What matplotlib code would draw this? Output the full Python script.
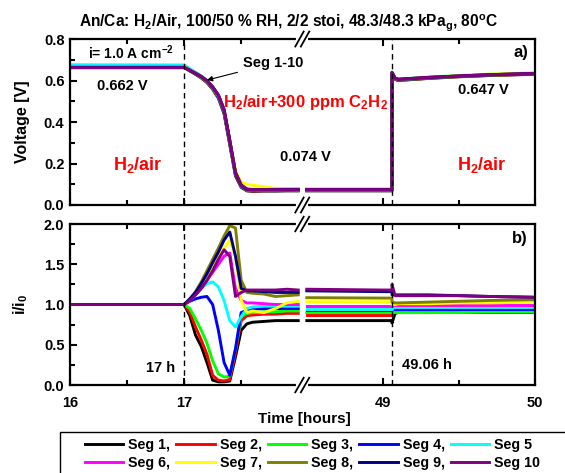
import numpy as np
import matplotlib
matplotlib.use('Agg')
from matplotlib import pyplot as plt
from matplotlib.ticker import FixedLocator, NullFormatter
from matplotlib.patches import Rectangle

plt.rcParams['font.family'] = 'Liberation Sans'
plt.rcParams['font.weight'] = 'bold'
plt.rcParams['axes.labelweight'] = 'bold'
plt.rcParams['mathtext.fontset'] = 'custom'
plt.rcParams['mathtext.rm'] = 'Liberation Sans:bold'
plt.rcParams['mathtext.it'] = 'Liberation Sans:bold'
plt.rcParams['mathtext.bf'] = 'Liberation Sans:bold'

# ---- data ----
labels = ['Seg 1,', 'Seg 2,', 'Seg 3,', 'Seg 4,', 'Seg 5',
          'Seg 6,', 'Seg 7,', 'Seg 8,', 'Seg 9,', 'Seg 10']
colors = ['#000000', '#ff0000', '#00ff00', '#0000ff', '#00ffff',
          '#ff00ff', '#ffff00', '#808000', '#000080', '#800080']

t_left = [16.0, 17.0, 17.05, 17.1, 17.15, 17.2, 17.25, 17.3, 17.35, 17.4,
          17.45, 17.5, 17.55, 17.6, 17.7, 17.8, 17.9, 18.0]
t_right = [48.5, 49.0, 49.06, 49.06, 49.08, 49.1, 49.3, 49.5, 49.7, 50.0]

volt_left = [
    [0.662, 0.662, 0.646, 0.630, 0.612, 0.590, 0.558, 0.515, 0.440, 0.290, 0.140, 0.085, 0.068, 0.066, 0.067, 0.067, 0.068, 0.068],
    [0.663, 0.663, 0.647, 0.631, 0.614, 0.592, 0.560, 0.518, 0.445, 0.295, 0.145, 0.088, 0.070, 0.068, 0.069, 0.070, 0.070, 0.070],
    [0.664, 0.664, 0.648, 0.632, 0.615, 0.593, 0.562, 0.520, 0.448, 0.298, 0.148, 0.090, 0.071, 0.070, 0.071, 0.071, 0.072, 0.072],
    [0.665, 0.665, 0.649, 0.633, 0.617, 0.595, 0.564, 0.522, 0.450, 0.300, 0.150, 0.092, 0.073, 0.072, 0.073, 0.073, 0.073, 0.074],
    [0.676, 0.675, 0.657, 0.640, 0.622, 0.600, 0.570, 0.528, 0.458, 0.308, 0.156, 0.096, 0.076, 0.074, 0.074, 0.075, 0.075, 0.075],
    [0.668, 0.668, 0.651, 0.636, 0.620, 0.598, 0.568, 0.528, 0.458, 0.310, 0.158, 0.097, 0.077, 0.075, 0.075, 0.075, 0.076, 0.076],
    [0.666, 0.666, 0.650, 0.635, 0.619, 0.598, 0.568, 0.528, 0.460, 0.315, 0.165, 0.110, 0.100, 0.095, 0.088, 0.080, 0.077, 0.076],
    [0.665, 0.665, 0.650, 0.635, 0.619, 0.598, 0.568, 0.530, 0.460, 0.312, 0.158, 0.097, 0.076, 0.075, 0.075, 0.076, 0.076, 0.076],
    [0.663, 0.663, 0.649, 0.634, 0.619, 0.599, 0.569, 0.530, 0.460, 0.311, 0.156, 0.096, 0.075, 0.074, 0.074, 0.075, 0.075, 0.075],
    [0.662, 0.662, 0.650, 0.635, 0.620, 0.600, 0.570, 0.530, 0.460, 0.310, 0.155, 0.095, 0.076, 0.074, 0.074, 0.074, 0.074, 0.074],
]
volt_right = [
    [0.068, 0.068, 0.068, 0.630, 0.606, 0.600, 0.610, 0.618, 0.624, 0.630],
    [0.070, 0.070, 0.070, 0.632, 0.607, 0.601, 0.611, 0.619, 0.625, 0.631],
    [0.071, 0.071, 0.071, 0.634, 0.608, 0.602, 0.612, 0.620, 0.626, 0.632],
    [0.073, 0.073, 0.073, 0.636, 0.609, 0.603, 0.613, 0.621, 0.627, 0.633],
    [0.075, 0.075, 0.075, 0.640, 0.613, 0.607, 0.617, 0.624, 0.630, 0.636],
    [0.076, 0.076, 0.076, 0.638, 0.611, 0.605, 0.615, 0.622, 0.628, 0.634],
    [0.076, 0.076, 0.076, 0.638, 0.612, 0.606, 0.616, 0.624, 0.631, 0.638],
    [0.075, 0.075, 0.075, 0.637, 0.611, 0.605, 0.614, 0.622, 0.628, 0.635],
    [0.075, 0.075, 0.075, 0.638, 0.612, 0.606, 0.615, 0.622, 0.628, 0.634],
    [0.074, 0.074, 0.074, 0.640, 0.612, 0.606, 0.615, 0.622, 0.628, 0.634],
]

ratio_left = [
    [1.0, 1.0, 0.86, 0.62, 0.48, 0.28, 0.06, 0.04, 0.04, 0.05, 0.35, 0.68, 0.76, 0.78, 0.79, 0.80, 0.80, 0.80],
    [1.0, 1.0, 0.90, 0.72, 0.56, 0.38, 0.12, 0.06, 0.05, 0.07, 0.40, 0.80, 0.86, 0.87, 0.88, 0.88, 0.89, 0.89],
    [1.0, 1.0, 0.95, 0.82, 0.68, 0.52, 0.30, 0.14, 0.10, 0.11, 0.45, 0.85, 0.89, 0.90, 0.91, 0.91, 0.92, 0.92],
    [1.0, 1.0, 1.04, 1.07, 1.09, 1.10, 1.00, 0.68, 0.28, 0.12, 0.45, 0.90, 0.93, 0.94, 0.95, 0.95, 0.95, 0.95],
    [1.0, 1.0, 1.05, 1.12, 1.20, 1.26, 1.28, 1.22, 1.05, 0.80, 0.72, 0.85, 0.95, 0.97, 0.98, 0.98, 0.98, 0.98],
    [1.0, 1.0, 1.05, 1.12, 1.20, 1.30, 1.40, 1.50, 1.60, 1.64, 1.20, 1.05, 1.02, 1.02, 1.01, 1.00, 1.00, 1.00],
    [1.0, 1.0, 1.06, 1.14, 1.24, 1.36, 1.48, 1.60, 1.70, 1.80, 1.60, 1.05, 0.90, 0.92, 0.90, 0.95, 1.02, 1.04],
    [1.0, 1.0, 1.07, 1.16, 1.28, 1.42, 1.56, 1.70, 1.85, 1.98, 1.95, 1.30, 1.15, 1.14, 1.13, 1.10, 1.11, 1.12],
    [1.0, 1.0, 1.07, 1.15, 1.26, 1.38, 1.52, 1.65, 1.80, 1.90, 1.60, 1.20, 1.17, 1.17, 1.16, 1.15, 1.15, 1.15],
    [1.0, 1.0, 1.05, 1.12, 1.20, 1.30, 1.42, 1.56, 1.68, 1.60, 1.10, 1.15, 1.18, 1.18, 1.18, 1.18, 1.19, 1.18],
]
ratio_right = [
    [0.80, 0.80, 0.80, 0.77, 0.89, 0.90, 0.90, 0.91, 0.91, 0.91],
    [0.87, 0.87, 0.87, 0.91, 0.91, 0.91, 0.91, 0.91, 0.91, 0.91],
    [0.90, 0.90, 0.90, 0.90, 0.90, 0.90, 0.90, 0.90, 0.91, 0.91],
    [0.93, 0.93, 0.93, 0.95, 0.95, 0.95, 0.95, 0.95, 0.95, 0.95],
    [0.95, 0.95, 0.95, 0.97, 0.97, 0.97, 0.97, 0.97, 0.97, 0.97],
    [0.98, 0.98, 0.98, 0.99, 0.99, 0.99, 0.99, 0.99, 0.99, 0.99],
    [1.035, 1.035, 1.035, 1.00, 1.00, 1.01, 1.01, 1.02, 1.02, 1.03],
    [1.085, 1.08, 1.08, 1.03, 1.02, 1.02, 1.03, 1.04, 1.05, 1.06],
    [1.17, 1.16, 1.16, 1.12, 1.12, 1.12, 1.12, 1.11, 1.10, 1.09],
    [1.19, 1.18, 1.18, 1.25, 1.11, 1.11, 1.11, 1.11, 1.10, 1.09],
]

event_times = [17.0, 49.06]


# broken time axis: 16-18 and 48.5-50 share one axis
def fwd(t):
    t = np.asarray(t, float)
    return np.where(t <= 18, t,
                    np.where(t >= 48.5, 18.075 + (t - 48.5) * 1.333,
                             18 + (t - 18) * 0.075 / 30.5))


def inv(u):
    u = np.asarray(u, float)
    return np.where(u <= 18, u,
                    np.where(u >= 18.075, 48.5 + (u - 18.075) / 1.333,
                             18 + (u - 18) * 30.5 / 0.075))


fig = plt.figure(figsize=(5.65, 4.73), dpi=100)
ax1 = fig.add_axes([0.1239, 0.5666, 0.8230, 0.3509])
ax2 = fig.add_axes([0.1239, 0.1860, 0.8230, 0.3404])

handles = []
for i in range(10):
    ax1.plot(t_left, volt_left[i], color=colors[i], lw=2.1)
    ax1.plot(t_right, volt_right[i], color=colors[i], lw=2.1)
    h, = ax2.plot(t_left, ratio_left[i], color=colors[i], lw=2.1)
    ax2.plot(t_right, ratio_right[i], color=colors[i], lw=2.1)
    handles.append(h)

for ax in (ax1, ax2):
    ax.set_xscale('function', functions=(fwd, inv))
    ax.set_xlim(16, 50)
    ax.xaxis.set_major_locator(FixedLocator([16, 17, 49, 50]))
    ax.xaxis.set_minor_locator(FixedLocator([16.5, 17.5, 49.5]))
    ax.xaxis.set_minor_formatter(NullFormatter())
    ax.tick_params(which='both', direction='in', top=True, width=1.5, labelsize=10.5, pad=4)
    ax.tick_params(which='major', length=5)
    ax.tick_params(which='minor', length=3.5)
    for s in ax.spines.values():
        s.set_linewidth(1.6)
    for te in event_times:
        ax.axvline(te, color='black', lw=1.0, ls=(0, (4, 3)))
    # break marks
    xb = 0.4995
    for yb in (0, 1):
        ax.plot([xb - 0.009, xb + 0.009], [yb, yb], transform=ax.transAxes,
                color='white', lw=3, clip_on=False, zorder=5)
        for dx in (-0.006, 0.006):
            ax.plot([xb + dx - 0.009, xb + dx + 0.009], [yb - 0.045, yb + 0.045],
                    transform=ax.transAxes, color='black', lw=1.3,
                    clip_on=False, zorder=6)

ax1.set_ylim(0, 0.8)
ax1.set_yticks([0.0, 0.2, 0.4, 0.6, 0.8])
ax1.yaxis.set_minor_locator(FixedLocator([0.1, 0.3, 0.5, 0.7]))
ax1.set_yticklabels(['0.0', '0.2', '0.4', '0.6', '0.8'])
ax1.tick_params(axis='x', labelbottom=False)
ax1.set_ylabel('Voltage [V]', fontsize=11.5)
ax1.yaxis.set_label_coords(-0.086, 0.5)

ax2.set_ylim(0, 2.0)
ax2.set_yticks([0.0, 0.5, 1.0, 1.5, 2.0])
ax2.yaxis.set_minor_locator(FixedLocator([0.25, 0.75, 1.25, 1.75]))
ax2.set_yticklabels(['0.0', '0.5', '1.0', '1.5', '2.0'])
ax2.tick_params(axis='x', pad=8)
ax2.set_ylabel('i/i$_0$', fontsize=11.5)
ax2.yaxis.set_label_coords(-0.086, 0.5)
ax2.set_xlabel('Time [hours]', fontsize=11)
ax2.xaxis.set_label_coords(0.503, -0.165)

# annotations, top panel
ax1.text(0.039, 0.916, 'i= 1.0 A cm$^{-2}$', transform=ax1.transAxes, fontsize=10, va='center')
ax1.text(0.058, 0.69, '0.662 V', transform=ax1.transAxes, fontsize=10.5)
ax1.text(0.0925, 0.211, 'H$_2$/air', transform=ax1.transAxes, fontsize=13, color='red')
ax1.text(0.329, 0.59, 'H$_2$/air+300 ppm C$_2$H$_2$', transform=ax1.transAxes, fontsize=12, color='red')
ax1.text(0.452, 0.265, '0.074 V', transform=ax1.transAxes, fontsize=10.5)
ax1.text(0.834, 0.669, '0.647 V', transform=ax1.transAxes, fontsize=10.5)
ax1.text(0.832, 0.211, 'H$_2$/air', transform=ax1.transAxes, fontsize=13, color='red')
ax1.text(0.985, 0.89, 'a)', transform=ax1.transAxes, fontsize=12, ha='right')
ax1.annotate('Seg 1-10', xy=(17.2, 0.602), xytext=(0.372, 0.83),
             textcoords='axes fraction', fontsize=10.5, va='baseline',
             arrowprops=dict(arrowstyle='-|>', color='black', lw=0.8,
                             shrinkA=2, shrinkB=0, mutation_scale=8))

# annotations, bottom panel
ax2.text(0.985, 0.88, 'b)', transform=ax2.transAxes, fontsize=12, ha='right')
ax2.text(0.226, 0.081, '17 h', transform=ax2.transAxes, fontsize=10.5, ha='right')
ax2.text(0.714, 0.10, '49.06 h', transform=ax2.transAxes, fontsize=10.5)

fig.text(0.51, 0.943, 'An/Ca: H$_2$/Air, 100/50 % RH, 2/2 stoi, 48.3/48.3 kPa$_g$, 80$^o$C',
         ha='center', fontsize=11.2)

order = [0, 5, 1, 6, 2, 7, 3, 8, 4, 9]
leg = fig.legend([handles[k] for k in order], [labels[k] for k in order],
                 ncol=5, loc='upper left', bbox_to_anchor=(85 / 565, 1 - 438 / 473),
                 borderaxespad=0, borderpad=0, fontsize=10.3, handlelength=2.68,
                 handletextpad=0.35, columnspacing=0.42, labelspacing=0.25,
                 frameon=False)
# legend frame runs off the right and bottom edge of the figure
fig.add_artist(Rectangle((60 / 565, -0.05), 1.0, 0.05 + 41 / 473,
                         transform=fig.transFigure, fill=False,
                         edgecolor='black', lw=1.0))

fig.savefig('out.png', dpi=100)
